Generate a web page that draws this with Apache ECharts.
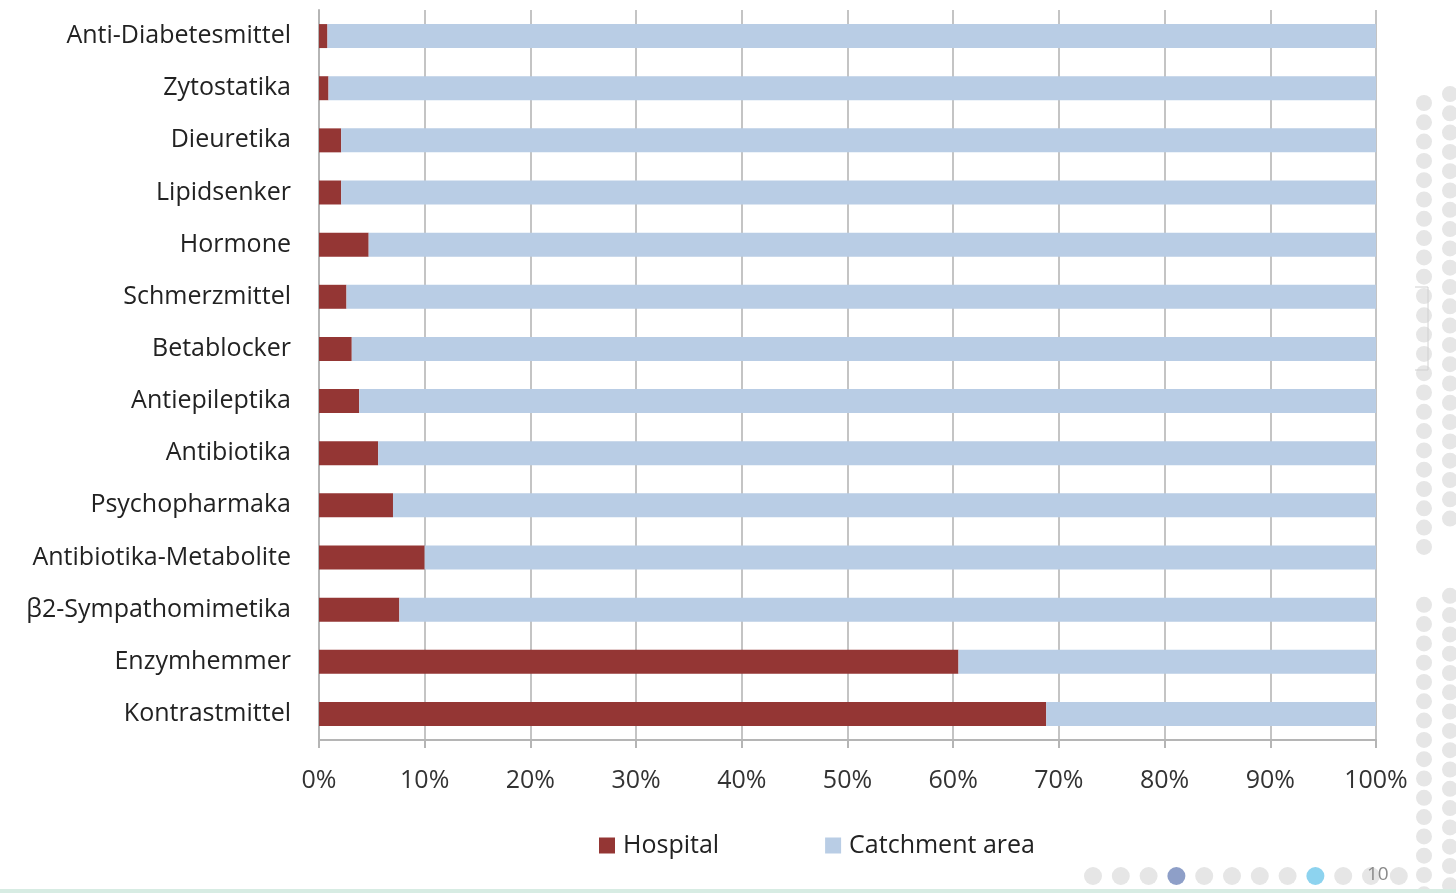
<!DOCTYPE html>
<html>
<head>
<meta charset="utf-8">
<script src="https://cdn.jsdelivr.net/npm/echarts@6/dist/echarts.min.js"></script>
<style>
  html, body { margin: 0; padding: 0; background: #fff; }
  #main { width: 1456px; height: 893px; }
</style>
</head>
<body>
<div id="main"></div>
<script>
// categories listed top to bottom
const categories = [
  'Anti-Diabetesmittel', 'Zytostatika', 'Dieuretika', 'Lipidsenker', 'Hormone',
  'Schmerzmittel', 'Betablocker', 'Antiepileptika', 'Antibiotika', 'Psychopharmaka',
  'Antibiotika-Metabolite', 'β2-Sympathomimetika', 'Enzymhemmer', 'Kontrastmittel'
];
// share of Hospital in %
const hospital = [0.8, 0.9, 2.1, 2.1, 4.7, 2.6, 3.1, 3.8, 5.6, 7.0, 10.0, 7.6, 60.5, 68.8];
const catchment = hospital.map(v => +(100 - v).toFixed(1));
const xTicks = [0, 10, 20, 30, 40, 50, 60, 70, 80, 90, 100];

const chart = echarts.init(document.getElementById('main'));

// slide decoration (grey dots right side / bottom)
const deco = [];
for (let i = 0; i < 44; i++) {
  const y = 103 + i * 19.3;
  if (i < 24 || i > 25) {
    deco.push({ type: 'circle', shape: { cx: 1424, cy: y, r: 8 }, style: { fill: '#e6e6e6' }, silent: true });
  }
  if (i < 23 || i > 25) {
    deco.push({ type: 'circle', shape: { cx: 1450, cy: y - 9, r: 8 }, style: { fill: '#e6e6e6' }, silent: true });
  }
}
const dotColors = ['#e6e6e6', '#e6e6e6', '#e6e6e6', '#8e9fc8', '#e6e6e6', '#e6e6e6', '#e6e6e6', '#e6e6e6', '#8dd3ef', '#e6e6e6', '#e6e6e6', '#e6e6e6'];
dotColors.forEach((c, i) => {
  deco.push({ type: 'circle', shape: { cx: 1093 + i * 27.8, cy: 876, r: 9 }, style: { fill: c }, silent: true });
});
deco.push({ type: 'text', left: 1367, top: 865, style: { text: '10', fill: '#8a8a8a', font: '19px "Open Sans"' }, silent: true });
deco.push({ type: 'polyline', shape: { points: [[1415, 287], [1428, 287], [1428, 370], [1415, 370]] }, style: { stroke: '#d0d0d0', fill: null, lineWidth: 1 }, silent: true });
deco.push({ type: 'rect', shape: { x: 0, y: 889, width: 1456, height: 4 }, style: { fill: '#d7ece3' }, silent: true });

const option = {
  animation: false,
  textStyle: { fontFamily: 'Open Sans' },
  graphic: deco,
  legend: {
    bottom: 30,
    left: 594,
    itemWidth: 16,
    itemHeight: 16,
    itemGap: 106,
    icon: 'rect',
    textStyle: { fontSize: 25, color: '#222', fontFamily: 'Open Sans', padding: [0, 0, 0, 3] },
    data: ['Hospital', 'Catchment area']
  },
  grid: {
    left: 319,
    right: 80,
    top: 10,
    bottom: 153
  },
  xAxis: {
    type: 'value',
    min: 0,
    max: 100,
    interval: 10,
    axisLabel: {
      fontSize: 25,
      color: '#333',
      margin: 28,
      formatter: v => xTicks.includes(v) ? v + '%' : ''
    },
    axisLine: { show: true, lineStyle: { color: '#b5b5b5', width: 2 } },
    axisTick: { show: true, length: 8, lineStyle: { color: '#b5b5b5', width: 2 } },
    splitLine: { show: true, lineStyle: { color: '#c4c4c4', width: 2 } }
  },
  yAxis: {
    type: 'category',
    inverse: true,
    data: categories,
    axisLabel: { fontSize: 25, color: '#222', margin: 28 },
    axisLine: { show: true, lineStyle: { color: '#b5b5b5', width: 2 } },
    axisTick: { show: false },
    splitLine: { show: false }
  },
  series: [
    {
      name: 'Hospital',
      type: 'bar',
      stack: 'total',
      barWidth: '46%',
      itemStyle: { color: '#943634' },
      data: hospital
    },
    {
      name: 'Catchment area',
      type: 'bar',
      stack: 'total',
      barWidth: '46%',
      itemStyle: { color: '#b9cde5' },
      data: catchment
    }
  ]
};

chart.setOption(option);
</script>
</body>
</html>
